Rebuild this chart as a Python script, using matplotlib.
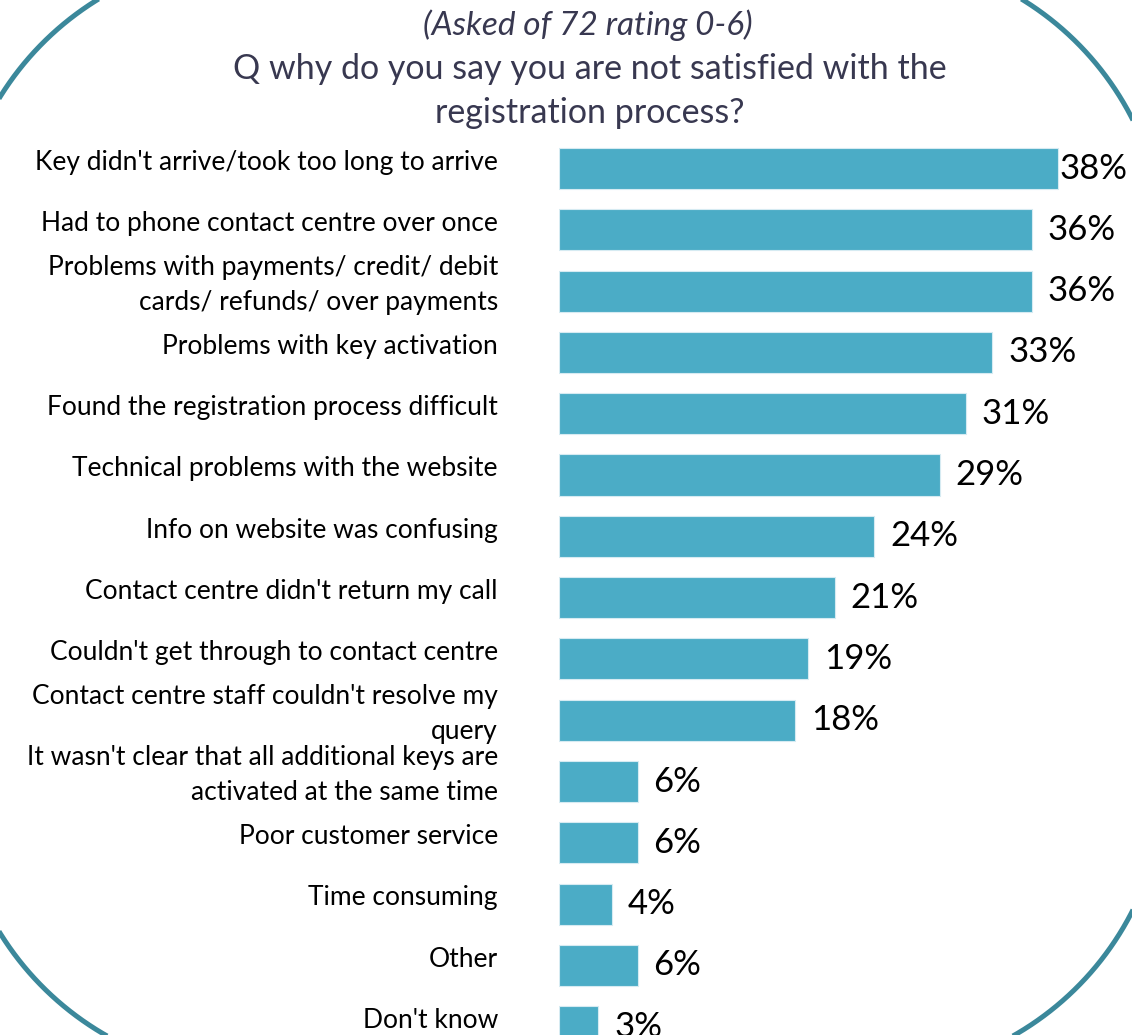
import numpy as np
import matplotlib.pyplot as plt
from matplotlib.patches import Polygon

categories = [
    "Key didn't arrive/took too long to arrive",
    "Had to phone contact centre over once",
    "Problems with payments/ credit/ debit\ncards/ refunds/ over payments",
    "Problems with key activation",
    "Found the registration process difficult",
    "Technical problems with the website",
    "Info on website was confusing",
    "Contact centre didn't return my call",
    "Couldn't get through to contact centre",
    "Contact centre staff couldn't resolve my\nquery",
    "It wasn't clear that all additional keys are\nactivated at the same time",
    "Poor customer service",
    "Time consuming",
    "Other",
    "Don't know",
]
values = [38, 36, 36, 33, 31, 29, 24, 21, 19, 18, 6, 6, 4, 6, 3]
title_top = "(Asked of 72 rating 0-6)"
title_main = "Q why do you say you are not satisfied with the\nregistration process?"

plt.rcParams['font.family'] = ['Lato', 'DejaVu Sans']

W, H = 1132, 1035
fig = plt.figure(figsize=(W / 100, H / 100), dpi=100)

# rounded border, drawn in pixel space (y down)
bg = fig.add_axes([0, 0, 1, 1])
bg.set_xlim(0, W)
bg.set_ylim(H, 0)
bg.axis('off')


def rounded_rect(x0, y0, x1, y1, r, n=60):
    pts = []
    corners = [(x1 - r, y0 + r, -90, 0), (x1 - r, y1 - r, 0, 90),
               (x0 + r, y1 - r, 90, 180), (x0 + r, y0 + r, 180, 270)]
    for cx, cy, a0, a1 in corners:
        t = np.radians(np.linspace(a0, a1, n))
        pts += list(zip(cx + r * np.cos(t), cy + r * np.sin(t)))
    return pts


bg.add_patch(Polygon(rounded_rect(-45, -45, W + 33, H + 40, 300), closed=True,
                     fill=False, edgecolor="#3B889B", linewidth=3.6))

bg.text(588, 25, title_top, ha='center', va='center', fontsize=24,
        style='italic', color="#383850")
bg.text(590, 91, title_main, ha='center', va='center', fontsize=24.5,
        color="#383850", linespacing=1.45)

ax = fig.add_axes([559 / W, 0, (W - 559) / W, (H - 130) / H])
ax.patch.set_alpha(0)
y = list(range(len(values)))
ax.barh(y, values, height=0.67, color="#4BACC6", edgecolor="#D6EBF2", linewidth=0.8)
ax.set_xlim(0, (W - 559) / 13.13)
ax.set_ylim((H - 168.5) / 61.3, (130 - 168.5) / 61.3)
ax.axis('off')

for i, (lab, v) in enumerate(zip(categories, values)):
    ax.text(-0.1065, i - 0.1, lab, transform=ax.get_yaxis_transform(),
            ha='right', va='center', fontsize=19, color='black', linespacing=1.5)
    ax.text(min(v + 1.2, 38.1), i, f"{v}%", ha='left', va='center',
            fontsize=25, color='black')

fig.savefig("out.png", dpi=100)
